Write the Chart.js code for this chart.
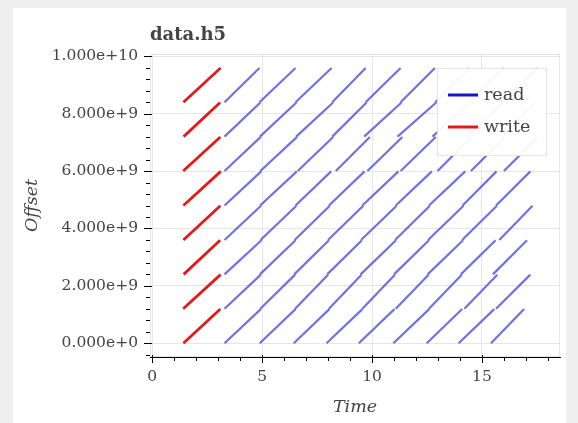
<!DOCTYPE html>
<html>
<head>
<meta charset="utf-8">
<script src="https://cdn.jsdelivr.net/npm/chart.js@4.4.1/dist/chart.umd.min.js"></script>
<style>
  html, body { margin: 0; padding: 0; background: #efefef; }
  body { width: 578px; height: 423px; position: relative; overflow: hidden; }
  #card { position: absolute; left: 13px; top: 8px; width: 553px; height: 420px; background: #fff; }
  #wrap { position: absolute; left: 0; top: 0; width: 578px; height: 423px; }
</style>
</head>
<body>
<div id="card"></div>
<div id="wrap"><canvas id="ioChart" width="578" height="423"></canvas></div>
<script>
// chunk layout of the file (each writer / reader owns one chunk)
const chunkOffsets = [0, 1.2e9, 2.4e9, 3.6e9, 4.8e9, 6.0e9, 7.2e9, 8.4e9];
const chunkSpan = 1.19e9;

// writes: one pass per chunk
const writeStart = [1.42, 1.41, 1.43, 1.42, 1.42, 1.41, 1.43, 1.42];
const writeEnd   = [3.10, 3.11, 3.09, 3.10, 3.12, 3.10, 3.09, 3.11];

// reads: nine passes per chunk (start / end times)
const readStart0 = [3.29, 4.89, 6.44, 7.93, 9.40, 10.97, 12.49, 13.94, 15.41];
const readEnd0   = [4.94, 6.52, 8.06, 9.56, 11.02, 12.60, 14.10, 15.56, 16.92];
const readStart1 = [3.29, 4.92, 6.50, 8.04, 9.56, 11.08, 12.59, 14.20, 15.64];
const readEnd1   = [4.94, 6.50, 8.00, 9.52, 11.04, 12.57, 14.08, 15.70, 17.20];
const readStart2 = [3.29, 4.90, 6.46, 7.96, 9.48, 11.00, 12.53, 14.04, 15.50];
const readEnd2   = [4.97, 6.52, 8.04, 9.54, 11.09, 12.59, 14.14, 15.62, 17.05];
const readStart3 = [3.29, 4.93, 6.48, 8.00, 9.50, 11.05, 12.55, 14.10, 15.79];
const readEnd3   = [4.95, 6.56, 8.08, 9.60, 11.12, 12.63, 14.16, 15.68, 17.30];
const readStart4 = [3.29, 4.91, 6.52, 8.04, 9.56, 11.08, 12.59, 14.12, 15.64];
const readEnd4   = [4.96, 6.58, 8.14, 9.66, 11.20, 12.72, 14.24, 15.66, 17.20];
const readStart5 = [3.29, 4.92, 6.62, 8.35, 9.79, 11.30, 12.98, 14.50, 16.00];
const readEnd5   = [4.94, 6.59, 8.23, 9.90, 11.38, 12.90, 14.52, 16.05, 17.55];
const readStart6 = [3.29, 4.90, 6.55, 8.19, 9.64, 11.16, 12.75, 14.30, 15.90];
const readEnd6   = [4.92, 6.56, 8.23, 9.75, 11.34, 12.92, 14.46, 15.99, 17.45];
const readStart7 = [3.29, 4.88, 6.52, 8.19, 9.71, 11.30, 12.88, 14.42, 15.95];
const readEnd7   = [4.88, 6.52, 8.16, 9.71, 11.30, 12.86, 14.42, 15.98, 17.50];

const readStarts = [readStart0, readStart1, readStart2, readStart3, readStart4, readStart5, readStart6, readStart7];
const readEnds   = [readEnd0, readEnd1, readEnd2, readEnd3, readEnd4, readEnd5, readEnd6, readEnd7];

const FONT = '"DejaVu Serif", serif';
const TEXT = '#444444';
const READ_COLOR = 'rgba(45, 45, 215, 0.68)';
const WRITE_COLOR = 'rgb(228, 26, 26)';

// BEGIN build segments (null point breaks the line)
function segmentPoints(starts, ends, offset, pts){
	for (let i = 0; i < starts.length; i++) {
		pts.push({x: starts[i], y: offset});
		pts.push({x: ends[i], y: offset + chunkSpan});
		pts.push({x: ends[i], y: null});
	}
}

let readPoints = [];
chunkOffsets.forEach(function(off, k){
	segmentPoints(readStarts[k], readEnds[k], off, readPoints);
});

let writePoints = [];
chunkOffsets.forEach(function(off, k){
	segmentPoints([writeStart[k]], [writeEnd[k]], off, writePoints);
});
// END build segments

let xTickValues = [];
for (let v = 0; v <= 18; v++) xTickValues.push(v);
let yTickValues = [];
for (let k = -1; k <= 25; k++) yTickValues.push(k * 4e8);

function isMajorX(v){ return v % 5 === 0; }
function isMajorY(v){ return Math.round(v / 4e8) % 5 === 0; }

// frame outline + ticks like the original axes
const frameAndTicks = {
	id: 'frameAndTicks',
	beforeDatasetsDraw(chart){
		const {ctx, chartArea: a} = chart;
		ctx.save();
		ctx.strokeStyle = '#e5e5e5';
		ctx.lineWidth = 1;
		ctx.strokeRect(a.left + 0.5, a.top + 0.5, a.right - a.left - 1, a.bottom - a.top - 1);
		ctx.restore();
	},
	afterDatasetsDraw(chart){
		const {ctx, chartArea: a, scales} = chart;
		ctx.save();
		ctx.strokeStyle = '#000';
		ctx.lineWidth = 1;
		ctx.beginPath();
		scales.x.ticks.forEach(function(t){
			const px = Math.round(scales.x.getPixelForValue(t.value)) + 0.5;
			const major = isMajorX(t.value);
			ctx.moveTo(px, a.bottom - (major ? 2 : 0));
			ctx.lineTo(px, a.bottom + (major ? 6 : 4));
		});
		scales.y.ticks.forEach(function(t){
			const py = Math.round(scales.y.getPixelForValue(t.value)) + 0.5;
			const major = isMajorY(t.value);
			ctx.moveTo(a.left + (major ? 2 : 0), py);
			ctx.lineTo(a.left - (major ? 6 : 4), py);
		});
		ctx.stroke();
		ctx.restore();
	},
	afterDraw(chart){
		const {ctx, chartArea: a} = chart;
		ctx.save();
		// title
		ctx.fillStyle = TEXT;
		ctx.font = 'bold 18px ' + FONT;
		ctx.textBaseline = 'middle';
		ctx.textAlign = 'left';
		ctx.fillText('data.h5', a.left, 35);

		// legend box inside the plot, top right
		const bx = a.right - 123, by = a.top + 14, bw = 109, bh = 87;
		ctx.fillStyle = 'rgba(255,255,255,0.95)';
		ctx.fillRect(bx, by, bw, bh);
		ctx.strokeStyle = '#e5e5e5';
		ctx.lineWidth = 1;
		ctx.strokeRect(bx + 0.5, by + 0.5, bw, bh);
		const items = [
			{label: 'read', color: 'rgb(20, 20, 210)'},
			{label: 'write', color: WRITE_COLOR}
		];
		ctx.font = '17.5px ' + FONT;
		items.forEach(function(it, i){
			const yy = by + 27 + i * 32;
			ctx.strokeStyle = it.color;
			ctx.lineWidth = 3;
			ctx.beginPath();
			ctx.moveTo(bx + 11, yy);
			ctx.lineTo(bx + 41, yy);
			ctx.stroke();
			ctx.fillStyle = TEXT;
			ctx.fillText(it.label, bx + 47, yy);
		});
		ctx.restore();
	}
};

let ioChart = new Chart(document.getElementById('ioChart'), {
	type: 'scatter',
	data: {
		datasets: [{
			label: 'read',
			data: readPoints,
			showLine: true,
			spanGaps: false,
			borderColor: READ_COLOR,
			borderWidth: 2.2,
			pointRadius: 0
		}, {
			label: 'write',
			data: writePoints,
			showLine: true,
			spanGaps: false,
			borderColor: WRITE_COLOR,
			borderWidth: 2.8,
			pointRadius: 0
		}]
	},
	options: {
		responsive: false,
		animation: false,
		events: [],
		layout: { padding: { left: 20, top: 54, right: 18, bottom: 0 } },
		plugins: {
			legend: { display: false },
			title: { display: false },
			tooltip: { enabled: false }
		},
		scales: {
			x: {
				type: 'linear',
				min: -0.1,
				max: 18.55,
				afterBuildTicks: function(scale){
					scale.ticks = xTickValues.map(function(v){ return {value: v}; });
				},
				afterFit: function(scale){ scale.height = 66; },
				grid: {
					drawTicks: false,
					color: function(c){ return (c.tick && isMajorX(c.tick.value)) ? '#e6e6e6' : 'rgba(0,0,0,0)'; }
				},
				border: { display: true, color: '#000', width: 1 },
				ticks: {
					autoSkip: false,
					maxRotation: 0,
					padding: 11,
					color: TEXT,
					font: { family: FONT, size: 15.5 },
					callback: function(v){ return isMajorX(v) ? String(v) : ''; }
				},
				title: {
					display: true,
					text: 'Time',
					color: TEXT,
					font: { family: FONT, size: 17.5, style: 'italic' },
					padding: { top: 5, bottom: 5 }
				}
			},
			y: {
				type: 'linear',
				min: -0.48e9,
				max: 10.08e9,
				afterBuildTicks: function(scale){
					scale.ticks = yTickValues.map(function(v){ return {value: v}; });
				},
				afterFit: function(scale){ scale.width = 130; },
				grid: {
					drawTicks: false,
					color: function(c){ return (c.tick && isMajorY(c.tick.value)) ? '#e6e6e6' : 'rgba(0,0,0,0)'; }
				},
				border: { display: true, color: '#000', width: 1 },
				ticks: {
					autoSkip: false,
					padding: 12,
					color: TEXT,
					font: { family: FONT, size: 15.5 },
					callback: function(v){ return isMajorY(v) ? v.toExponential(3) : ''; }
				},
				title: {
					display: true,
					text: 'Offset',
					color: TEXT,
					font: { family: FONT, size: 17.5, style: 'italic' },
					padding: { top: 2, bottom: 2 }
				}
			}
		}
	},
	plugins: [frameAndTicks]
});
</script>
</body>
</html>
